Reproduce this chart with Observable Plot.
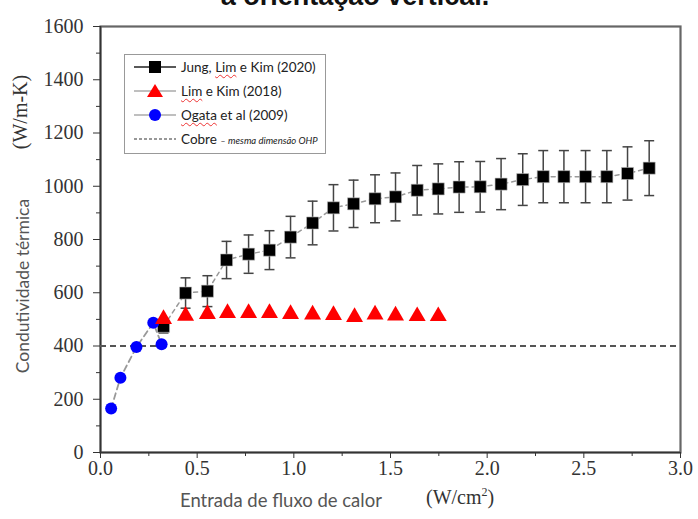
<!DOCTYPE html>
<html>
<head>
<meta charset="utf-8">
<script src="https://cdn.jsdelivr.net/npm/d3@7"></script>
<script src="https://cdn.jsdelivr.net/npm/@observablehq/plot@0.6"></script>
<style>
  html, body { margin: 0; padding: 0; background: #fff; }
  #wrap { position: relative; width: 698px; height: 519px; overflow: hidden; }
  #chart { position: absolute; left: 0; top: 0; }
  .title { position: absolute; left: 0; width: 710px; top: -17px; text-align: center;
           font: bold 27px "Liberation Sans", Arial, sans-serif; line-height: 1; color: #111; white-space: nowrap; }
  .rot { position: absolute; transform: translate(-50%, -50%) rotate(-90deg); white-space: nowrap; line-height: 1; }
  .sans { font-family: Lato, "Open Sans", sans-serif; color: #555; }
  .serif { font-family: "Liberation Serif", "Times New Roman", serif; color: #333; }
  .abs { position: absolute; white-space: nowrap; line-height: 1; }
  .legend { position: absolute; left: 124px; top: 54px; width: 200px; height: 98px; border: 1px solid #999;
            background: #fff; font-family: Lato, "Open Sans", sans-serif; font-size: 13.5px; color: #222; }
  .legend .row { position: absolute; left: 9px; height: 20px; display: flex; align-items: center; white-space: nowrap; }
  .legend svg { margin-right: 5px; }
  .sq { text-decoration: underline wavy #e33; text-decoration-thickness: 1px; text-underline-offset: 2px; }
</style>
</head>
<body>
<div id="wrap">
  <div id="chart"></div>
  <div class="title">a orientação vertical.</div>
  <div class="rot sans" style="left:23px; top:286px; font-size:17.5px">Condutividade térmica</div>
  <div class="rot serif" style="left:20px; top:112px; font-size:20px">(W/m-K)</div>
  <div class="abs sans" style="left:180px; top:491px; font-size:18.5px">Entrada de fluxo de calor</div>
  <div class="abs serif" style="left:426px; top:486px; font-size:20px">(W/cm<sup style="font-size:12px">2</sup>)</div>
  <div class="legend" id="legend"></div>
</div>
<script>
// ---- Data ----
const seriesNames = ["Jung, Lim e Kim (2020)", "Lim e Kim (2018)", "Ogata et al (2009)", "Cobre"];

const jungX   = [0.326, 0.44, 0.553, 0.652, 0.766, 0.874, 0.983, 1.097, 1.205, 1.309, 1.42, 1.526,
                 1.638, 1.747, 1.855, 1.964, 2.072, 2.184, 2.29, 2.397, 2.509, 2.619, 2.726, 2.838];
const jungY   = [474, 599, 606, 723, 745, 760, 809, 862, 919, 934, 953, 960,
                 985, 990, 997, 998, 1008, 1025, 1036, 1036, 1036, 1036, 1048, 1068];
const jungErr = [25, 57, 58, 70, 72, 73, 78, 82, 87, 89, 90, 90,
                 93, 94, 95, 95, 96, 97, 98, 98, 98, 98, 100, 103];

const limX = [0.326, 0.44, 0.553, 0.657, 0.766, 0.874, 0.983, 1.097, 1.205, 1.314, 1.42, 1.526, 1.638, 1.747];
const limY = [501, 513, 520, 524, 524, 524, 520, 518, 516, 509, 518, 514, 512, 512];

const ogataX = [0.055, 0.103, 0.186, 0.273, 0.316];
const ogataY = [165, 281, 396, 487, 407];

const copperY = 400;

const xTicks = [0, 0.5, 1.0, 1.5, 2.0, 2.5, 3.0];
const xMinorTicks = [0.25, 0.75, 1.25, 1.75, 2.25, 2.75];
const yTicks = [0, 200, 400, 600, 800, 1000, 1200, 1400, 1600];
const yMinorTicks = [100, 300, 500, 700, 900, 1100, 1300, 1500];

// ---- Tables ----
const jung = jungX.map((x, i) => ({x, y: jungY[i], e: jungErr[i]}));
const lim = limX.map((x, i) => ({x, y: limY[i]}));
const ogata = ogataX.map((x, i) => ({x, y: ogataY[i]}));

const capSymbol = { draw(ctx) { ctx.moveTo(-5, 0); ctx.lineTo(5, 0); } };

const chart = Plot.plot({
  width: 698,
  height: 519,
  marginLeft: 100,
  marginRight: 18,
  marginTop: 26,
  marginBottom: 67,
  style: { fontFamily: "'Liberation Serif', 'Times New Roman', serif", fontSize: "20px", color: "#333", background: "#fff" },
  x: { domain: [0, 3] },
  y: { domain: [0, 1600] },
  marks: [
    Plot.frame({ stroke: "#666", strokeWidth: 2.2 }),
    Plot.axisX({ ticks: xTicks, tickFormat: d3.format(".1f"), tickSize: 6, tickPadding: 2, label: null, stroke: "#333", fill: "#333" }),
    Plot.axisX({ ticks: xMinorTicks, tickFormat: () => "", tickSize: 4, label: null, stroke: "#333" }),
    Plot.axisY({ ticks: yTicks, tickFormat: d3.format("d"), tickSize: 7, tickPadding: 10, label: null, stroke: "#333", fill: "#333" }),
    Plot.axisY({ ticks: yMinorTicks, tickFormat: () => "", tickSize: 4, label: null, stroke: "#333" }),
    Plot.ruleY([0], { stroke: "#333", strokeWidth: 1.5 }),
    Plot.ruleX([0], { stroke: "#333", strokeWidth: 1.5 }),
    Plot.ruleY([copperY], { stroke: "#555", strokeWidth: 2, strokeDasharray: "6,4" }),
    Plot.line(jung, { x: "x", y: "y", stroke: "#999", strokeWidth: 1.5, strokeDasharray: "4,4" }),
    Plot.line(ogata, { x: "x", y: "y", stroke: "#999", strokeWidth: 1.8, strokeDasharray: "6,4" }),
    Plot.ruleX(jung, { x: "x", y1: d => d.y - d.e, y2: d => d.y + d.e, stroke: "#444", strokeWidth: 1.5 }),
    Plot.dot(jung, { x: "x", y: d => d.y + d.e, symbol: capSymbol, fill: "none", stroke: "#444", strokeWidth: 1.5 }),
    Plot.dot(jung, { x: "x", y: d => d.y - d.e, symbol: capSymbol, fill: "none", stroke: "#444", strokeWidth: 1.5 }),
    Plot.dot(jung, { x: "x", y: "y", symbol: "square", r: 6.8, fill: "#000", stroke: "#bbb", strokeWidth: 0.6 }),
    Plot.dot(ogata, { x: "x", y: "y", symbol: "circle", r: 6, fill: "#0000ff", stroke: "none" }),
    Plot.dot(lim, { x: "x", y: "y", symbol: "triangle", r: 6.3, fill: "#ff0000", stroke: "none" })
  ]
});
document.getElementById("chart").appendChild(chart);

// ---- Legend ----
const legend = document.getElementById("legend");
const rows = [
  { top: 2, html: seriesNames[0].replace("Lim", '<span class="sq">Lim</span>'),
    sym: '<line x1="0" y1="8" x2="42" y2="8" stroke="#222" stroke-width="1.6"/><rect x="15" y="2" width="12" height="12" fill="#000"/>' },
  { top: 26, html: seriesNames[1].replace("Lim", '<span class="sq">Lim</span>'),
    sym: '<line x1="0" y1="8" x2="42" y2="8" stroke="#aaa" stroke-width="1.6"/><path d="M21,1 L29,14 L13,14 Z" fill="#ff0000"/>' },
  { top: 50, html: seriesNames[2].replace("Ogata", '<span class="sq">Ogata</span>'),
    sym: '<line x1="0" y1="8" x2="42" y2="8" stroke="#aaa" stroke-width="1.6"/><circle cx="21" cy="8" r="6" fill="#0000ff"/>' },
  { top: 74, html: seriesNames[3] + ' <i style="font-size:9.5px">– mesma dimensão OHP</i>',
    sym: '<line x1="0" y1="8" x2="42" y2="8" stroke="#777" stroke-width="1.6" stroke-dasharray="3,2"/>' }
];
for (const r of rows) {
  const div = document.createElement("div");
  div.className = "row";
  div.style.top = r.top + "px";
  div.innerHTML = `<svg width="42" height="16">${r.sym}</svg><span>${r.html}</span>`;
  legend.appendChild(div);
}
</script>
</body>
</html>
